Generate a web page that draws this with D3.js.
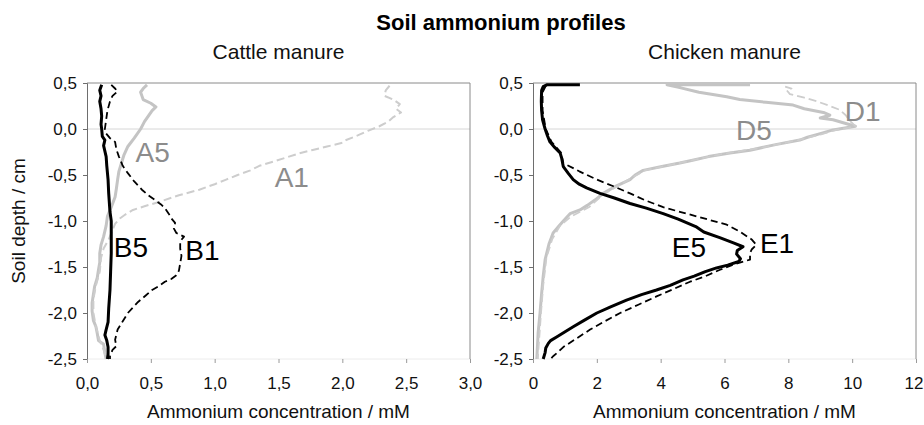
<!DOCTYPE html>
<html><head><meta charset="utf-8">
<script src="https://cdn.jsdelivr.net/npm/d3@7"></script>
<style>
html,body{margin:0;padding:0;background:#fff;}
svg text{font-family:"Liberation Sans",Arial,sans-serif;}
</style></head>
<body>
<svg id="chart" width="924" height="425"></svg>
<script>
// ---------- data ----------
const chartTitle = "Soil ammonium profiles";
const panelTitles = ["Cattle manure", "Chicken manure"];
const xAxisTitle = "Ammonium concentration / mM";
const yAxisTitle = "Soil depth / cm";
const yTicks = [0.5, 0.0, -0.5, -1.0, -1.5, -2.0, -2.5];
const xTicksCattle = [0, 0.5, 1.0, 1.5, 2.0, 2.5, 3.0];
const xTicksChicken = [0, 2, 4, 6, 8, 10, 12];

// depth (cm), concentration (mM)
const A5_depth = [0.48,0.44,0.40,0.36,0.32,0.28,0.24,0.20,0.14,0.08,0.0,-0.10,-0.19,-0.28,-0.37,-0.46,-0.55,-0.65,-0.74,-0.85,-0.95,-1.05,-1.17,-1.26,-1.35,-1.45,-1.53,-1.62,-1.71,-1.80,-1.89,-1.98,-2.08,-2.15,-2.22,-2.30,-2.34,-2.43,-2.5];
const A5_conc  = [0.47,0.44,0.42,0.43,0.44,0.50,0.54,0.51,0.48,0.45,0.42,0.37,0.32,0.29,0.27,0.25,0.24,0.23,0.22,0.19,0.16,0.15,0.13,0.11,0.10,0.10,0.09,0.08,0.06,0.05,0.04,0.04,0.05,0.07,0.08,0.09,0.13,0.14,0.15];

const A1_depth = [0.47,0.42,0.36,0.32,0.27,0.22,0.18,0.13,0.08,0.03,-0.02,-0.07,-0.12,-0.15,-0.19,-0.23,-0.27,-0.31,-0.35,-0.40,-0.45,-0.50,-0.55,-0.60,-0.66,-0.72,-0.79,-0.84,-0.88,-0.93,-0.97,-1.03,-1.10,-1.20,-1.30,-1.40,-1.55,-1.70,-1.85,-2.00,-2.15,-2.30,-2.40,-2.5];
const A1_conc  = [2.37,2.34,2.33,2.40,2.45,2.42,2.46,2.40,2.36,2.29,2.20,2.12,2.03,2.00,1.88,1.76,1.65,1.56,1.47,1.35,1.28,1.18,1.09,1.00,0.88,0.72,0.57,0.45,0.36,0.30,0.26,0.22,0.20,0.17,0.13,0.11,0.10,0.07,0.05,0.05,0.07,0.10,0.13,0.15];

const B5_depth = [0.48,0.42,0.36,0.30,0.22,0.14,0.05,0.0,-0.08,-0.12,-0.18,-0.30,-0.40,-0.55,-0.70,-0.90,-1.0,-1.2,-1.35,-1.55,-1.75,-1.95,-2.10,-2.18,-2.24,-2.30,-2.37,-2.45,-2.5];
const B5_conc  = [0.115,0.10,0.11,0.10,0.11,0.115,0.11,0.115,0.12,0.14,0.13,0.15,0.155,0.165,0.17,0.18,0.19,0.19,0.19,0.185,0.18,0.17,0.165,0.15,0.14,0.155,0.165,0.165,0.16];

const B1_depth = [0.48,0.44,0.41,0.36,0.30,0.20,0.10,0.0,-0.05,-0.10,-0.14,-0.22,-0.30,-0.40,-0.48,-0.57,-0.66,-0.72,-0.77,-0.82,-0.86,-0.92,-0.97,-1.02,-1.08,-1.13,-1.17,-1.22,-1.30,-1.38,-1.46,-1.54,-1.59,-1.63,-1.66,-1.71,-1.75,-1.81,-1.88,-1.94,-2.0,-2.09,-2.18,-2.29,-2.36,-2.40,-2.47,-2.5];
const B1_conc  = [0.19,0.22,0.24,0.20,0.18,0.16,0.15,0.14,0.15,0.18,0.22,0.23,0.25,0.28,0.32,0.37,0.43,0.48,0.53,0.58,0.61,0.64,0.66,0.69,0.68,0.70,0.76,0.73,0.73,0.74,0.73,0.72,0.70,0.66,0.61,0.56,0.51,0.46,0.40,0.36,0.32,0.28,0.24,0.22,0.23,0.20,0.18,0.18];

const D5_depth = [0.48,0.48,0.45,0.40,0.35,0.32,0.29,0.26,0.22,0.18,0.15,0.12,0.10,0.06,0.03,-0.01,-0.05,-0.09,-0.12,-0.17,-0.23,-0.26,-0.30,-0.34,-0.37,-0.41,-0.45,-0.50,-0.55,-0.62,-0.70,-0.77,-0.83,-0.88,-0.92,-1.0,-1.06,-1.13,-1.25,-1.42,-1.60,-1.79,-2.0,-2.22,-2.5];
const D5_conc  = [6.8,4.2,4.6,5.2,6.07,6.48,7.3,8.15,8.5,9.1,9.3,9.0,9.4,9.8,10.1,9.4,9.0,8.6,8.36,7.6,6.8,6.17,5.5,5.0,4.6,4.0,3.45,3.2,3.04,2.6,2.2,1.95,1.7,1.47,1.16,0.95,0.80,0.63,0.50,0.38,0.32,0.27,0.22,0.16,0.12];

const D1_depth = [0.46,0.44,0.42,0.38,0.34,0.30,0.25,0.21,0.15,0.10,0.03,-0.01,-0.06,-0.12,-0.20,-0.28,-0.36,-0.45,-0.55,-0.70,-0.85,-0.95,-1.05,-1.20,-1.40,-1.70,-2.0,-2.5];
const D1_conc  = [7.9,8.1,7.95,8.05,8.5,8.9,9.3,9.6,9.8,9.9,10.1,9.5,9.0,8.3,7.2,5.8,4.7,3.5,3.0,2.25,1.75,1.2,0.85,0.6,0.42,0.32,0.25,0.15];

const E5_depth = [0.48,0.48,0.46,0.42,0.30,0.20,0.10,0.0,-0.07,-0.14,-0.20,-0.26,-0.32,-0.41,-0.48,-0.55,-0.60,-0.64,-0.70,-0.75,-0.81,-0.86,-0.92,-0.98,-1.06,-1.12,-1.18,-1.24,-1.28,-1.32,-1.36,-1.41,-1.44,-1.48,-1.51,-1.55,-1.60,-1.64,-1.70,-1.75,-1.80,-1.86,-1.93,-2.0,-2.08,-2.15,-2.21,-2.26,-2.30,-2.33,-2.38,-2.43,-2.5];
const E5_conc  = [1.47,0.43,0.32,0.27,0.26,0.27,0.30,0.38,0.45,0.53,0.68,0.85,0.90,0.95,1.10,1.26,1.45,1.68,2.10,2.55,3.04,3.55,4.08,4.55,5.10,5.35,5.85,6.30,6.58,6.40,6.38,6.50,6.45,6.10,5.75,5.40,5.05,4.70,4.30,3.87,3.40,2.93,2.45,2.0,1.60,1.26,0.98,0.74,0.55,0.48,0.40,0.38,0.32];

const E1_depth = [0.47,0.40,0.20,0.0,-0.14,-0.26,-0.37,-0.46,-0.55,-0.62,-0.70,-0.78,-0.85,-0.90,-0.95,-1.04,-1.12,-1.20,-1.26,-1.31,-1.35,-1.42,-1.47,-1.53,-1.60,-1.66,-1.74,-1.82,-1.91,-2.0,-2.09,-2.18,-2.28,-2.37,-2.42,-2.47,-2.5];
const E1_conc  = [0.40,0.30,0.30,0.40,0.58,0.88,0.95,1.45,2.0,2.5,3.04,3.55,4.08,4.6,5.13,6.07,6.5,6.85,7.0,6.85,6.8,6.8,6.3,5.86,5.4,4.92,4.4,3.87,3.3,2.73,2.25,1.79,1.35,0.95,0.80,0.63,0.55];

const seriesNames = ["A5","A1","B5","B1","D5","D1","E5","E1"];

// ---------- drawing ----------
const svg = d3.select("#chart");
const plotTop = 83, plotBottom = 359;
const y = d3.scaleLinear().domain([-2.5, 0.5]).range([plotBottom, plotTop]);
const fmtComma = v => d3.format(".1f")(v).replace(".", ",").replace("\u2212", "-");

const panels = [
  {x: d3.scaleLinear().domain([0, 3]).range([87, 470]), ticks: xTicksCattle, fmt: fmtComma, title: panelTitles[0],
   series: [
     {name:"A5", d:A5_depth, c:A5_conc, color:"#c4c4c4", w:3, dash:null},
     {name:"A1", d:A1_depth, c:A1_conc, color:"#cdcdcd", w:2, dash:"8,4"},
     {name:"B1", d:B1_depth, c:B1_conc, color:"#000", w:1.8, dash:"7,4"},
     {name:"B5", d:B5_depth, c:B5_conc, color:"#000", w:3, dash:null}
   ],
   labels: [
     {name:"A5", x:0.38, yv:-0.36, color:"#8c8c8c"},
     {name:"A1", x:1.47, yv:-0.63, color:"#8c8c8c"},
     {name:"B5", x:0.21, yv:-1.39, color:"#000"},
     {name:"B1", x:0.77, yv:-1.42, color:"#000"}
   ]},
  {x: d3.scaleLinear().domain([0, 12]).range([533, 916]), ticks: xTicksChicken, fmt: d3.format("d"), title: panelTitles[1],
   series: [
     {name:"D5", d:D5_depth, c:D5_conc, color:"#c4c4c4", w:3, dash:null},
     {name:"D1", d:D1_depth, c:D1_conc, color:"#cdcdcd", w:1.8, dash:"8,4"},
     {name:"E1", d:E1_depth, c:E1_conc, color:"#000", w:1.8, dash:"7,4"},
     {name:"E5", d:E5_depth, c:E5_conc, color:"#000", w:3, dash:null}
   ],
   labels: [
     {name:"D5", x:6.36, yv:-0.12, color:"#8c8c8c"},
     {name:"D1", x:9.77, yv:0.09, color:"#8c8c8c"},
     {name:"E5", x:4.35, yv:-1.39, color:"#000"},
     {name:"E1", x:7.11, yv:-1.35, color:"#000"}
   ]}
];

svg.append("text").attr("x", 501).attr("y", 30).attr("text-anchor", "middle")
  .attr("font-size", 22).attr("font-weight", "bold").attr("fill", "#000").text(chartTitle);

panels.forEach((p, pi) => {
  const g = svg.append("g");
  const [x0, x1] = p.x.range();
  const cx = (x0 + x1) / 2;
  g.append("text").attr("x", cx).attr("y", 59).attr("text-anchor", "middle")
    .attr("font-size", 21).attr("fill", "#111").text(p.title);

  // zero gridline and frame
  g.append("line").attr("x1", x0).attr("x2", x1).attr("y1", y(0)).attr("y2", y(0))
    .attr("stroke", "#d6d6d6").attr("stroke-width", 1);
  g.append("line").attr("x1", x0).attr("x2", x1).attr("y1", y(-2.5)).attr("y2", y(-2.5))
    .attr("stroke", "#ececec").attr("stroke-width", 1);
  g.append("line").attr("x1", x0).attr("x2", x1).attr("y1", y(0.5)).attr("y2", y(0.5))
    .attr("stroke", "#8a8a8a").attr("stroke-width", 1);
  g.append("line").attr("x1", x1).attr("x2", x1).attr("y1", y(0.5)).attr("y2", y(-2.5))
    .attr("stroke", "#8a8a8a").attr("stroke-width", 1);

  // y axis
  const ya = g.append("g").attr("transform", `translate(${x0},0)`)
    .call(d3.axisLeft(y).tickValues(yTicks).tickSize(4).tickPadding(6).tickFormat(fmtComma));
  ya.select(".domain").attr("stroke", "#6e6e6e");
  ya.selectAll(".tick line").attr("stroke", "#6e6e6e");
  ya.selectAll("text").attr("font-size", 17).attr("fill", "#111").attr("font-family", "'Liberation Sans', Arial, sans-serif");

  // x axis
  const xa = g.append("g").attr("transform", `translate(0,${plotBottom})`)
    .call(d3.axisBottom(p.x).tickValues(p.ticks).tickSize(4).tickPadding(14).tickFormat(p.fmt));
  xa.select(".domain").remove();
  xa.selectAll(".tick line").attr("stroke", "#9a9a9a");
  xa.selectAll("text").attr("font-size", 17).attr("fill", "#111").attr("font-family", "'Liberation Sans', Arial, sans-serif");
  if (pi === 1) {
    xa.selectAll(".tick text").filter(v => v === 12).attr("text-anchor", "end").attr("dx", 7);
  }

  g.append("text").attr("x", cx).attr("y", 418).attr("text-anchor", "middle")
    .attr("font-size", 19).attr("fill", "#111").text(xAxisTitle);

  // series
  p.series.forEach(s => {
    const pts = s.d.map((dv, i) => [s.c[i], dv]);
    const line = d3.line().x(v => p.x(v[0])).y(v => y(v[1]));
    g.append("path").attr("d", line(pts)).attr("fill", "none")
      .attr("stroke", s.color).attr("stroke-width", s.w)
      .attr("stroke-dasharray", s.dash).attr("stroke-linejoin", "round");
  });

  p.labels.forEach(l => {
    g.append("text").attr("x", p.x(l.x)).attr("y", y(l.yv))
      .attr("font-family", "'DejaVu Sans', Verdana, sans-serif")
      .attr("font-size", 28).attr("fill", l.color).text(l.name);
  });
});

svg.append("text").attr("transform", `translate(25,${(plotTop + plotBottom) / 2}) rotate(-90)`)
  .attr("text-anchor", "middle").attr("font-size", 19).attr("fill", "#111").text(yAxisTitle);
</script>
</body></html>
